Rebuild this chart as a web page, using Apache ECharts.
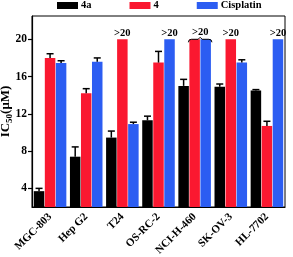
<!DOCTYPE html>
<html><head><meta charset="utf-8">
<script src="https://cdn.jsdelivr.net/npm/echarts@6/dist/echarts.min.js"></script>
<style>html,body{margin:0;padding:0;background:#fff}#c{width:293px;height:257px}</style>
</head><body><div id="c"></div>
<script>
const categories = ['MGC-803','Hep G2','T24','OS-RC-2','NCI-H-460','SK-OV-3','HL-7702'];
const seriesNames = ['4a','4','Cisplatin'];
const val4a  = [3.7, 7.4, 9.45, 11.3, 15.0, 14.9, 14.5];
const err4a  = [4.0, 8.45, 10.15, 11.75, 15.7, 15.2, 14.6];
const val4   = [18.0, 14.2, 20, 17.5, 20, 20, 10.7];
const err4   = [18.45, 14.7, null, 18.7, null, null, 11.2];
const valCis = [17.45, 17.6, 10.9, 20, 20, 17.5, 20];
const errCis = [17.7, 18.0, 11.1, null, null, 17.8, null];
const over4  = [false, false, true, false, true, true, false];
const overCis= [false, false, false, true, true, false, true];
const yTicks = [4, 8, 12, 16, 20];

const colors = ['#000000', '#fa1830', '#2c5df2'];
const BW = 10.5, GAP = 0.05;
const FONT = '"Liberation Serif", "DejaVu Serif", serif';

function barData(vals, over, skipLabelIdx, offsetIdx) {
  return vals.map((v, i) => {
    const o = { value: v };
    if (over && over[i]) {
      if (skipLabelIdx !== undefined && skipLabelIdx.includes(i)) {
        o.label = { show: false };
      } else {
        o.label = { show: true };
        if (offsetIdx !== undefined && offsetIdx.includes(i)) o.label.offset = [BW * (1 + GAP) / 2, -1];
      }
    }
    return o;
  });
}
const both = categories.map((c, i) => over4[i] && overCis[i]);
const bothIdx = both.map((b, i) => b ? i : -1).filter(i => i >= 0);

const errItems = [];
[[val4a, err4a], [val4, err4], [valCis, errCis]].forEach(([v, e], s) => {
  v.forEach((val, i) => { if (e[i] != null) errItems.push([i, s, val, e[i], 0]); });
});
bothIdx.forEach(i => errItems.push([i, 1, 20, 20, 1]));

const labelStyle = { position: 'top', distance: 1, formatter: '>20', color: '#000', fontFamily: FONT, fontWeight: 'bold', fontSize: 10.5 };

const chart = echarts.init(document.getElementById('c'));
chart.setOption({
  animation: false,
  textStyle: { fontFamily: FONT },
  legend: {
    data: seriesNames, top: 0, left: 57, padding: 0, itemWidth: 21, itemHeight: 7, itemGap: 38,
    icon: 'rect',
    textStyle: { fontFamily: FONT, fontWeight: 'bold', fontSize: 10.5, color: '#000', padding: [0, 0, 0, -2] }
  },
  grid: { left: 32, right: 8, top: 16, bottom: 50, containLabel: false, outerBoundsMode: 'none',
    show: true, borderColor: '#000', borderWidth: 1, backgroundColor: 'transparent' },
  xAxis: {
    type: 'category', data: categories,
    axisLine: { lineStyle: { color: '#000', width: 1.2 } },
    axisTick: { alignWithLabel: true, length: 4, lineStyle: { color: '#000', width: 1.2 } },
    axisLabel: { rotate: 45, fontFamily: FONT, fontWeight: 'bold', fontSize: 11, color: '#000', margin: 8, interval: 0 }
  },
  yAxis: {
    type: 'value', min: 2, max: 22.5,
    name: 'IC{s|50}(μM)', nameLocation: 'middle', nameGap: 18, nameRotate: 90, nameMoveOverlap: false,
    nameTextStyle: { fontFamily: FONT, fontWeight: 'bold', fontSize: 13, color: '#000',
      rich: { s: { fontFamily: FONT, fontWeight: 'bold', fontSize: 9, color: '#000', verticalAlign: 'bottom', padding: [7, 0, 0, 0] } } },
    splitLine: { show: false },
    axisLine: { show: true, lineStyle: { color: '#000', width: 1.2 } },
    axisTick: { show: true, length: 4, customValues: yTicks, lineStyle: { color: '#000', width: 1.2 } },
    axisLabel: { customValues: yTicks, fontFamily: FONT, fontWeight: 'bold', fontSize: 11.5, color: '#000', margin: 5 }
  },
  series: [
    { name: '4a', type: 'bar', barWidth: BW, barGap: (GAP * 100) + '%', itemStyle: { color: colors[0] }, data: val4a },
    { name: '4', type: 'bar', barWidth: BW, barGap: (GAP * 100) + '%', itemStyle: { color: colors[1] }, label: labelStyle,
      data: barData(val4, over4, [], bothIdx) },
    { name: 'Cisplatin', type: 'bar', barWidth: BW, barGap: (GAP * 100) + '%', itemStyle: { color: colors[2] }, label: labelStyle,
      data: barData(valCis, overCis, bothIdx) },
    { name: 'err', type: 'custom', z: 10, data: errItems,
      renderItem: function (params, api) {
        const cat = api.value(0), s = api.value(1), v = api.value(2), e = api.value(3), kind = api.value(4);
        const step = BW * (1 + GAP);
        const base = api.coord([cat, v]);
        const x = base[0] + (s - 1) * step;
        const yTop = base[1];
        const yE = api.coord([cat, e])[1];
        const st = { stroke: '#000', lineWidth: 1.5, fill: null };
        if (kind === 1) {
          const x1 = base[0] - BW / 2 - 1, x2 = base[0] + step + BW / 2 + 1, xm = (x1 + x2) / 2, y = yTop;
          return { type: 'path', shape: { pathData: `M${x1} ${y+3} Q${x1} ${y} ${x1+3} ${y} L${xm-2} ${y} L${xm} ${y-2} L${xm+2} ${y} L${x2-3} ${y} Q${x2} ${y} ${x2} ${y+3}` },
            style: { stroke: '#000', lineWidth: 1, fill: null } };
        }
        return { type: 'group', children: [
          { type: 'line', shape: { x1: x, y1: yTop, x2: x, y2: yE }, style: st },
          { type: 'line', shape: { x1: x - 3.5, y1: yE, x2: x + 3.5, y2: yE }, style: st }
        ] };
      }
    }
  ]
});
</script></body></html>
